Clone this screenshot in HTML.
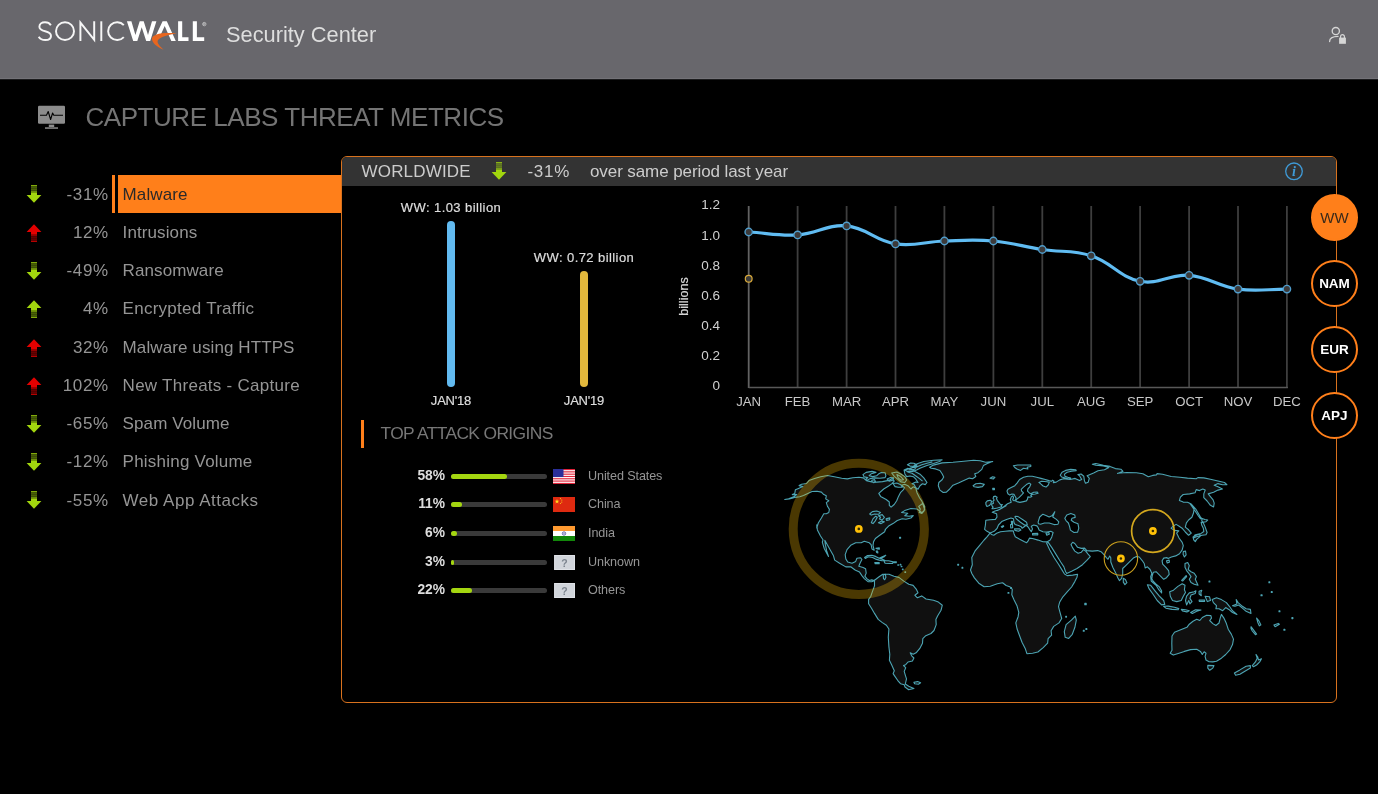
<!DOCTYPE html>
<html>
<head>
<meta charset="utf-8">
<title>SonicWall Security Center</title>
<style>
*{box-sizing:border-box;margin:0;padding:0}
html,body{width:1378px;height:794px;overflow:hidden;background:#000;}
body{position:relative;font-family:"Liberation Sans",sans-serif;color:#999;}
.abs{position:absolute;white-space:nowrap;}
svg{display:block;overflow:visible}
svg text{font-family:"Liberation Sans",sans-serif;}
#hdr{position:absolute;left:0;top:0;width:1378px;height:80px;background:#68676c;border-bottom:1px solid #1c1c1e;box-shadow:inset 0 -1px 0 #737277;}
#sc{left:226px;top:20.8px;font-size:21.8px;line-height:28px;color:#dedede;letter-spacing:0px;}
#title{left:85.5px;top:101.4px;font-size:26px;line-height:32px;color:#747474;letter-spacing:-0.46px;}
.mi{position:absolute;left:0;width:341px;height:38px;}
.mi .pc{position:absolute;right:232.3px;letter-spacing:.6px;top:.6px;line-height:38px;font-size:17px;color:#959595;white-space:nowrap;}
.mi .nm{position:absolute;left:122.6px;letter-spacing:.1px;top:.6px;line-height:38px;font-size:17px;color:#959595;white-space:nowrap;}
.mi svg{position:absolute;left:25.9px;top:10px;}
#sel{position:absolute;left:118px;top:175px;width:224px;height:38px;background:#ff7f1a;}
#selbar{position:absolute;left:112px;top:175px;width:3px;height:38px;background:#ff7f1a;}
#panel{position:absolute;left:341px;top:156px;width:996px;height:547px;border:1px solid #d8721e;border-radius:6px;}
#phead{position:absolute;left:342px;top:157px;width:994px;height:29px;background:#333;border-radius:5px 5px 0 0;}
.ph{top:157px;line-height:29px;font-size:17px;color:#ccc;}
.bar{position:absolute;width:8px;border-radius:4px;}
.lbl{font-size:13px;color:#ddd;-webkit-text-stroke:.2px #ddd;letter-spacing:.42px;text-align:center;line-height:16px;}
.rc{position:absolute;left:1311px;width:47px;height:47px;border-radius:50%;border:2px solid #ff7f1a;background:#000;color:#fff;font-size:13.5px;font-weight:bold;text-align:center;line-height:43px;}

.orow{position:absolute;left:345px;height:20px;width:400px;}
.orow .p{position:absolute;right:300px;top:0;line-height:20px;font-size:13.8px;font-weight:bold;color:#ddd;}
.orow .trk{position:absolute;left:106px;top:8px;width:96px;height:5px;border-radius:3px;background:#3a3a3a;}
.orow .fil{position:absolute;left:0;top:0;height:5px;border-radius:3px;background:#a4d610;}
.orow .flag{position:absolute;left:208px;top:3px;width:22px;height:15px;overflow:hidden}
.orow .cn{position:absolute;left:243px;top:0;line-height:20px;font-size:12.6px;letter-spacing:-.1px;color:#959595;}

#wrap{position:absolute;left:0;top:0;width:1378px;height:794px;will-change:transform;}

</style>
</head>
<body>
<div id="wrap">
<div id="hdr"></div>
<svg class="abs" id="logo" style="left:30px;top:14px" width="185" height="40" viewBox="30 14 185 40">
<g fill="none" stroke="#f6f6f6" stroke-width="1.95">
<path d="M50.9 25.2 C49.6 23.2 47.4 22.3 45 22.3 C41.6 22.3 39.4 24.2 39.4 26.7 C39.4 29.6 42 30.5 45.2 31.2 C48.6 32 51 33.1 51 35.9 C51 38.6 48.6 40 45.3 40 C42.3 40 40 38.8 38.7 36.7"/>
<ellipse cx="65" cy="31.15" rx="9" ry="8.85"/>
<path d="M80.4 41 V22.6 L94.2 39.8 V21.3" stroke-linejoin="miter" stroke-miterlimit="10"/>
<path d="M101.3 21.3 V41"/>
<path d="M123.8 25.2 A9 8.85 0 1 0 123.8 37.1"/>
</g>
<g fill="#fff">
<path d="M126.9 21.3 H131.4 L135.4 35 L139.7 21.3 H143.7 L148 35 L152 21.3 H156.4 L150.2 41 H146.2 L141.7 27.2 L137.3 41 H133.2 Z"/>
<path d="M162.6 21.3 H166.8 L175.8 41 H171.3 L164.7 25.9 L160.4 35.6 H155.9 Z"/>
<path d="M178.1 21.3 H182.2 V37.3 H188.5 V41 H178.1 Z"/>
<path d="M192.8 21.3 H196.9 V37.3 H204.2 V41 H192.8 Z"/>
</g>
<path d="M176.8 33.4 C170 32.7 161 32.8 156.5 34.5 C153.6 35.6 152 37 151.9 38.7 C152 42.2 156 46.6 163.6 49.7 C160 46.6 157.2 43.6 157.6 41.1 C158 38.6 162.4 35.6 176.8 33.4 Z" fill="#e8661f"/>
<circle cx="204.3" cy="24.1" r="1.7" fill="none" stroke="#e4e4e4" stroke-width=".6"/>
<path d="M203.6 25 V23.2 H204.5 A.5 .5 0 0 1 204.5 24.2 H203.6 M204.4 24.2 L205 25" fill="none" stroke="#e4e4e4" stroke-width=".4"/>

</svg>
<div class="abs" id="sc">Security Center</div>
<svg class="abs" id="usr" style="left:1324px;top:22px" width="28" height="26" viewBox="1324 22 28 26">
<circle cx="1335.8" cy="31.1" r="3.6" fill="none" stroke="#d6d6d6" stroke-width="1.3"/>
<path d="M1329.6 41.6 C1329.6 38.2 1332 36.5 1338 36.4" fill="none" stroke="#d6d6d6" stroke-width="1.3" stroke-linecap="round"/>
<rect x="1339.1" y="37.6" width="6.8" height="6.2" fill="#d6d6d6"/>
<path d="M1340.6 38 V36.6 A1.9 1.9 0 0 1 1344.4 36.6 V38" fill="none" stroke="#d6d6d6" stroke-width="1.2"/>

</svg>
<svg class="abs" id="mon" style="left:36px;top:103px" width="32" height="28" viewBox="36 103 32 28">
<rect x="38" y="105.8" width="27" height="18" rx="1.2" fill="#8c8c8c"/>
<path d="M40 115.3 H46.5 L48.2 111.5 L50.6 119.5 L52.6 113 L53.8 115.3 H63" fill="none" stroke="#000" stroke-width="1.1" stroke-linejoin="round"/>
<rect x="48.8" y="124.6" width="5.4" height="2.4" fill="#8c8c8c"/>
<rect x="45" y="127.3" width="13" height="1.5" fill="#8c8c8c"/>

</svg>
<div class="abs" id="title">CAPTURE LABS THREAT METRICS</div>

<div id="selbar"></div><div id="sel"></div>
<div class="mi" style="top:175.00px"><svg width="16" height="18" viewBox="0 0 16 18"><g>
<rect x="5" y="0" width="6" height="1.5" fill="#a2d60e" opacity=".8"/>
<rect x="5" y="2.2" width="6" height="1.3" fill="#a2d60e" opacity=".55"/>
<rect x="5" y="4.2" width="6" height="1.3" fill="#a2d60e" opacity=".55"/>
<rect x="5" y="3.5" width="6" height="0.7" fill="#a2d60e" opacity=".25"/>
<rect x="5" y="5.5" width="6" height="0.7" fill="#a2d60e" opacity=".3"/>
<rect x="5" y="6.2" width="6" height="1.6" fill="#a2d60e" opacity=".8"/>
<rect x="5" y="7.8" width="6" height="2.6" fill="#a2d60e"/>
<path d="M0.6 10 L15.4 10 L8 17.8 Z" fill="#a2d60e"/></g></svg><span class="pc">-31%</span><span class="nm" style="color:#2a2a2a">Malware</span></div>
<div class="mi" style="top:213.25px"><svg style="top:10.5px" width="16" height="18" viewBox="0 0 16 18"><g transform="translate(0,18) scale(1,-1)"><g>
<rect x="5" y="0" width="6" height="1.5" fill="#e40000" opacity=".8"/>
<rect x="5" y="2.2" width="6" height="1.3" fill="#e40000" opacity=".55"/>
<rect x="5" y="4.2" width="6" height="1.3" fill="#e40000" opacity=".55"/>
<rect x="5" y="3.5" width="6" height="0.7" fill="#e40000" opacity=".25"/>
<rect x="5" y="5.5" width="6" height="0.7" fill="#e40000" opacity=".3"/>
<rect x="5" y="6.2" width="6" height="1.6" fill="#e40000" opacity=".8"/>
<rect x="5" y="7.8" width="6" height="2.6" fill="#e40000"/>
<path d="M0.6 10 L15.4 10 L8 17.8 Z" fill="#e40000"/></g></g></svg><span class="pc">12%</span><span class="nm">Intrusions</span></div>
<div class="mi" style="top:251.50px"><svg width="16" height="18" viewBox="0 0 16 18"><g>
<rect x="5" y="0" width="6" height="1.5" fill="#a2d60e" opacity=".8"/>
<rect x="5" y="2.2" width="6" height="1.3" fill="#a2d60e" opacity=".55"/>
<rect x="5" y="4.2" width="6" height="1.3" fill="#a2d60e" opacity=".55"/>
<rect x="5" y="3.5" width="6" height="0.7" fill="#a2d60e" opacity=".25"/>
<rect x="5" y="5.5" width="6" height="0.7" fill="#a2d60e" opacity=".3"/>
<rect x="5" y="6.2" width="6" height="1.6" fill="#a2d60e" opacity=".8"/>
<rect x="5" y="7.8" width="6" height="2.6" fill="#a2d60e"/>
<path d="M0.6 10 L15.4 10 L8 17.8 Z" fill="#a2d60e"/></g></svg><span class="pc">-49%</span><span class="nm">Ransomware</span></div>
<div class="mi" style="top:289.75px"><svg style="top:10.5px" width="16" height="18" viewBox="0 0 16 18"><g transform="translate(0,18) scale(1,-1)"><g>
<rect x="5" y="0" width="6" height="1.5" fill="#a2d60e" opacity=".8"/>
<rect x="5" y="2.2" width="6" height="1.3" fill="#a2d60e" opacity=".55"/>
<rect x="5" y="4.2" width="6" height="1.3" fill="#a2d60e" opacity=".55"/>
<rect x="5" y="3.5" width="6" height="0.7" fill="#a2d60e" opacity=".25"/>
<rect x="5" y="5.5" width="6" height="0.7" fill="#a2d60e" opacity=".3"/>
<rect x="5" y="6.2" width="6" height="1.6" fill="#a2d60e" opacity=".8"/>
<rect x="5" y="7.8" width="6" height="2.6" fill="#a2d60e"/>
<path d="M0.6 10 L15.4 10 L8 17.8 Z" fill="#a2d60e"/></g></g></svg><span class="pc">4%</span><span class="nm" style="letter-spacing:0.26px">Encrypted Traffic</span></div>
<div class="mi" style="top:328.00px"><svg style="top:10.5px" width="16" height="18" viewBox="0 0 16 18"><g transform="translate(0,18) scale(1,-1)"><g>
<rect x="5" y="0" width="6" height="1.5" fill="#e40000" opacity=".8"/>
<rect x="5" y="2.2" width="6" height="1.3" fill="#e40000" opacity=".55"/>
<rect x="5" y="4.2" width="6" height="1.3" fill="#e40000" opacity=".55"/>
<rect x="5" y="3.5" width="6" height="0.7" fill="#e40000" opacity=".25"/>
<rect x="5" y="5.5" width="6" height="0.7" fill="#e40000" opacity=".3"/>
<rect x="5" y="6.2" width="6" height="1.6" fill="#e40000" opacity=".8"/>
<rect x="5" y="7.8" width="6" height="2.6" fill="#e40000"/>
<path d="M0.6 10 L15.4 10 L8 17.8 Z" fill="#e40000"/></g></g></svg><span class="pc">32%</span><span class="nm">Malware using HTTPS</span></div>
<div class="mi" style="top:366.25px"><svg style="top:10.5px" width="16" height="18" viewBox="0 0 16 18"><g transform="translate(0,18) scale(1,-1)"><g>
<rect x="5" y="0" width="6" height="1.5" fill="#e40000" opacity=".8"/>
<rect x="5" y="2.2" width="6" height="1.3" fill="#e40000" opacity=".55"/>
<rect x="5" y="4.2" width="6" height="1.3" fill="#e40000" opacity=".55"/>
<rect x="5" y="3.5" width="6" height="0.7" fill="#e40000" opacity=".25"/>
<rect x="5" y="5.5" width="6" height="0.7" fill="#e40000" opacity=".3"/>
<rect x="5" y="6.2" width="6" height="1.6" fill="#e40000" opacity=".8"/>
<rect x="5" y="7.8" width="6" height="2.6" fill="#e40000"/>
<path d="M0.6 10 L15.4 10 L8 17.8 Z" fill="#e40000"/></g></g></svg><span class="pc">102%</span><span class="nm" style="letter-spacing:0.27px">New Threats - Capture</span></div>
<div class="mi" style="top:404.50px"><svg width="16" height="18" viewBox="0 0 16 18"><g>
<rect x="5" y="0" width="6" height="1.5" fill="#a2d60e" opacity=".8"/>
<rect x="5" y="2.2" width="6" height="1.3" fill="#a2d60e" opacity=".55"/>
<rect x="5" y="4.2" width="6" height="1.3" fill="#a2d60e" opacity=".55"/>
<rect x="5" y="3.5" width="6" height="0.7" fill="#a2d60e" opacity=".25"/>
<rect x="5" y="5.5" width="6" height="0.7" fill="#a2d60e" opacity=".3"/>
<rect x="5" y="6.2" width="6" height="1.6" fill="#a2d60e" opacity=".8"/>
<rect x="5" y="7.8" width="6" height="2.6" fill="#a2d60e"/>
<path d="M0.6 10 L15.4 10 L8 17.8 Z" fill="#a2d60e"/></g></svg><span class="pc">-65%</span><span class="nm">Spam Volume</span></div>
<div class="mi" style="top:442.75px"><svg width="16" height="18" viewBox="0 0 16 18"><g>
<rect x="5" y="0" width="6" height="1.5" fill="#a2d60e" opacity=".8"/>
<rect x="5" y="2.2" width="6" height="1.3" fill="#a2d60e" opacity=".55"/>
<rect x="5" y="4.2" width="6" height="1.3" fill="#a2d60e" opacity=".55"/>
<rect x="5" y="3.5" width="6" height="0.7" fill="#a2d60e" opacity=".25"/>
<rect x="5" y="5.5" width="6" height="0.7" fill="#a2d60e" opacity=".3"/>
<rect x="5" y="6.2" width="6" height="1.6" fill="#a2d60e" opacity=".8"/>
<rect x="5" y="7.8" width="6" height="2.6" fill="#a2d60e"/>
<path d="M0.6 10 L15.4 10 L8 17.8 Z" fill="#a2d60e"/></g></svg><span class="pc">-12%</span><span class="nm" style="letter-spacing:0.22px">Phishing Volume</span></div>
<div class="mi" style="top:481.00px"><svg width="16" height="18" viewBox="0 0 16 18"><g>
<rect x="5" y="0" width="6" height="1.5" fill="#a2d60e" opacity=".8"/>
<rect x="5" y="2.2" width="6" height="1.3" fill="#a2d60e" opacity=".55"/>
<rect x="5" y="4.2" width="6" height="1.3" fill="#a2d60e" opacity=".55"/>
<rect x="5" y="3.5" width="6" height="0.7" fill="#a2d60e" opacity=".25"/>
<rect x="5" y="5.5" width="6" height="0.7" fill="#a2d60e" opacity=".3"/>
<rect x="5" y="6.2" width="6" height="1.6" fill="#a2d60e" opacity=".8"/>
<rect x="5" y="7.8" width="6" height="2.6" fill="#a2d60e"/>
<path d="M0.6 10 L15.4 10 L8 17.8 Z" fill="#a2d60e"/></g></svg><span class="pc">-55%</span><span class="nm" style="letter-spacing:0.52px">Web App Attacks</span></div>

<div id="panel"></div>
<div id="phead"></div>
<div class="abs ph" style="left:361.5px;letter-spacing:.18px">WORLDWIDE</div>
<div class="abs" style="left:491px;top:162px"><svg width="16" height="18" viewBox="0 0 16 18"><g>
<rect x="5" y="0" width="6" height="1.5" fill="#a2d60e" opacity=".8"/>
<rect x="5" y="2.2" width="6" height="1.3" fill="#a2d60e" opacity=".55"/>
<rect x="5" y="4.2" width="6" height="1.3" fill="#a2d60e" opacity=".55"/>
<rect x="5" y="3.5" width="6" height="0.7" fill="#a2d60e" opacity=".25"/>
<rect x="5" y="5.5" width="6" height="0.7" fill="#a2d60e" opacity=".3"/>
<rect x="5" y="6.2" width="6" height="1.6" fill="#a2d60e" opacity=".8"/>
<rect x="5" y="7.8" width="6" height="2.6" fill="#a2d60e"/>
<path d="M0.6 10 L15.4 10 L8 17.8 Z" fill="#a2d60e"/></g></svg></div>
<div class="abs ph" style="left:527.5px;letter-spacing:.7px">-31%</div>
<div class="abs ph" style="left:590px;letter-spacing:-.09px">over same period last year</div>
<svg class="abs" style="left:1283px;top:161px" width="22" height="22" viewBox="0 0 22 22"><circle cx="11" cy="10.3" r="8.3" fill="none" stroke="#3f9ad6" stroke-width="1.3"/><text x="11" y="15.3" text-anchor="middle" font-family="Liberation Serif" font-style="italic" font-weight="bold" font-size="14" fill="#3f9ad6" style="font-family:'Liberation Serif',serif">i</text></svg>

<div class="bar" style="left:447.4px;top:221px;height:166px;background:#62baf0"></div>
<div class="bar" style="left:580.2px;top:271px;height:116px;background:#e2b83c"></div>
<div class="abs lbl" style="left:351px;width:200px;top:200px">WW: 1.03 billion</div>
<div class="abs lbl" style="left:484px;width:200px;top:250px">WW: 0.72 billion</div>
<div class="abs lbl" style="left:351px;width:200px;top:393px;letter-spacing:-.2px">JAN'18</div>
<div class="abs lbl" style="left:484px;width:200px;top:393px;letter-spacing:-.2px">JAN'19</div>

<svg class="abs" id="chart" style="left:670px;top:190px" width="640" height="230" viewBox="670 190 640 230">
<line x1="748.7" y1="206" x2="748.7" y2="388" stroke="#626262" stroke-width="1.8"/>
<line x1="797.6" y1="206" x2="797.6" y2="388" stroke="#3e3e3e" stroke-width="1.8"/>
<line x1="846.6" y1="206" x2="846.6" y2="388" stroke="#3e3e3e" stroke-width="1.8"/>
<line x1="895.5" y1="206" x2="895.5" y2="388" stroke="#3e3e3e" stroke-width="1.8"/>
<line x1="944.4" y1="206" x2="944.4" y2="388" stroke="#3e3e3e" stroke-width="1.8"/>
<line x1="993.4" y1="206" x2="993.4" y2="388" stroke="#3e3e3e" stroke-width="1.8"/>
<line x1="1042.3" y1="206" x2="1042.3" y2="388" stroke="#3e3e3e" stroke-width="1.8"/>
<line x1="1091.2" y1="206" x2="1091.2" y2="388" stroke="#3e3e3e" stroke-width="1.8"/>
<line x1="1140.1" y1="206" x2="1140.1" y2="388" stroke="#3e3e3e" stroke-width="1.8"/>
<line x1="1189.1" y1="206" x2="1189.1" y2="388" stroke="#3e3e3e" stroke-width="1.8"/>
<line x1="1238.0" y1="206" x2="1238.0" y2="388" stroke="#3e3e3e" stroke-width="1.8"/>
<line x1="1286.9" y1="206" x2="1286.9" y2="388" stroke="#3e3e3e" stroke-width="1.8"/>
<line x1="748.7" y1="387.4" x2="1287.9" y2="387.4" stroke="#585858" stroke-width="1.5"/>
<path d="M748.7 232.0 C768.3 233.2 778.2 236.1 797.6 234.9 C817.3 233.7 827.4 224.1 846.6 225.9 C866.6 227.7 875.3 240.8 895.5 243.9 C914.5 246.8 924.8 241.6 944.4 241.0 C964.0 240.4 973.9 239.3 993.4 241.0 C1013.1 242.7 1022.6 246.5 1042.3 249.5 C1061.8 252.5 1072.7 249.8 1091.2 255.8 C1111.9 262.5 1119.5 277.2 1140.1 281.3 C1158.6 285.0 1169.8 273.8 1189.1 275.3 C1208.9 276.9 1218.1 286.3 1238.0 289.1 C1257.2 291.8 1267.4 289.1 1286.9 289.1" fill="none" stroke="#60bcf2" stroke-width="3.2" stroke-linecap="round" stroke-linejoin="round"/>
<circle cx="748.7" cy="232.0" r="3.7" fill="#3c3a3a" stroke="#4f9dcc" stroke-width="1.4"/>
<circle cx="797.6" cy="234.9" r="3.7" fill="#3c3a3a" stroke="#4f9dcc" stroke-width="1.4"/>
<circle cx="846.6" cy="225.9" r="3.7" fill="#3c3a3a" stroke="#4f9dcc" stroke-width="1.4"/>
<circle cx="895.5" cy="243.9" r="3.7" fill="#3c3a3a" stroke="#4f9dcc" stroke-width="1.4"/>
<circle cx="944.4" cy="241.0" r="3.7" fill="#3c3a3a" stroke="#4f9dcc" stroke-width="1.4"/>
<circle cx="993.4" cy="241.0" r="3.7" fill="#3c3a3a" stroke="#4f9dcc" stroke-width="1.4"/>
<circle cx="1042.3" cy="249.5" r="3.7" fill="#3c3a3a" stroke="#4f9dcc" stroke-width="1.4"/>
<circle cx="1091.2" cy="255.8" r="3.7" fill="#3c3a3a" stroke="#4f9dcc" stroke-width="1.4"/>
<circle cx="1140.1" cy="281.3" r="3.7" fill="#3c3a3a" stroke="#4f9dcc" stroke-width="1.4"/>
<circle cx="1189.1" cy="275.3" r="3.7" fill="#3c3a3a" stroke="#4f9dcc" stroke-width="1.4"/>
<circle cx="1238.0" cy="289.1" r="3.7" fill="#3c3a3a" stroke="#4f9dcc" stroke-width="1.4"/>
<circle cx="1286.9" cy="289.1" r="3.7" fill="#3c3a3a" stroke="#4f9dcc" stroke-width="1.4"/>
<circle cx="748.7" cy="278.7" r="3.4" fill="#3a3a3a" stroke="#d9a93a" stroke-width="1.2"/>
<text x="748.7" y="406" text-anchor="middle" font-size="13.2" fill="#c8c8c8">JAN</text>
<text x="797.6" y="406" text-anchor="middle" font-size="13.2" fill="#c8c8c8">FEB</text>
<text x="846.6" y="406" text-anchor="middle" font-size="13.2" fill="#c8c8c8">MAR</text>
<text x="895.5" y="406" text-anchor="middle" font-size="13.2" fill="#c8c8c8">APR</text>
<text x="944.4" y="406" text-anchor="middle" font-size="13.2" fill="#c8c8c8">MAY</text>
<text x="993.4" y="406" text-anchor="middle" font-size="13.2" fill="#c8c8c8">JUN</text>
<text x="1042.3" y="406" text-anchor="middle" font-size="13.2" fill="#c8c8c8">JUL</text>
<text x="1091.2" y="406" text-anchor="middle" font-size="13.2" fill="#c8c8c8">AUG</text>
<text x="1140.1" y="406" text-anchor="middle" font-size="13.2" fill="#c8c8c8">SEP</text>
<text x="1189.1" y="406" text-anchor="middle" font-size="13.2" fill="#c8c8c8">OCT</text>
<text x="1238.0" y="406" text-anchor="middle" font-size="13.2" fill="#c8c8c8">NOV</text>
<text x="1286.9" y="406" text-anchor="middle" font-size="13.2" fill="#c8c8c8">DEC</text>
<text x="720" y="390.4" text-anchor="end" font-size="13.5" fill="#d0d0d0">0</text>
<text x="720" y="360.2" text-anchor="end" font-size="13.5" fill="#d0d0d0">0.2</text>
<text x="720" y="330.0" text-anchor="end" font-size="13.5" fill="#d0d0d0">0.4</text>
<text x="720" y="299.9" text-anchor="end" font-size="13.5" fill="#d0d0d0">0.6</text>
<text x="720" y="269.7" text-anchor="end" font-size="13.5" fill="#d0d0d0">0.8</text>
<text x="720" y="239.5" text-anchor="end" font-size="13.5" fill="#d0d0d0">1.0</text>
<text x="720" y="209.3" text-anchor="end" font-size="13.5" fill="#d0d0d0">1.2</text>
<text transform="translate(687.8,296.5) rotate(-90)" text-anchor="middle" font-size="12.6" fill="#d6d6d6" stroke="#d6d6d6" stroke-width=".2">billions</text>
</svg>

<div class="rc" style="top:194px;background:#ff7f1a;color:#3a2a1a;font-weight:normal;font-size:15px">WW</div>
<div class="rc" style="top:260px">NAM</div>
<div class="rc" style="top:326px">EUR</div>
<div class="rc" style="top:392px">APJ</div>

<div class="abs" style="left:361px;top:420px;width:3px;height:28px;background:#ff7f1a"></div>
<div class="abs" id="tao" style="left:380.5px;top:421.3px;font-size:17.4px;line-height:24px;color:#777;letter-spacing:-.62px">TOP ATTACK ORIGINS</div>

<div class="orow" style="top:465.5px"><span class="p">58%</span><div class="trk"><div class="fil" style="width:55.7px"></div></div><div class="flag"><svg width="22" height="15" viewBox="0 0 22 15"><rect width="22" height="15" fill="#fff"/><g fill="#e0243a"><rect y="0" width="22" height="1.15"/><rect y="2.3" width="22" height="1.15"/><rect y="4.6" width="22" height="1.15"/><rect y="6.9" width="22" height="1.15"/><rect y="9.2" width="22" height="1.15"/><rect y="11.5" width="22" height="1.15"/><rect y="13.85" width="22" height="1.15"/></g><rect width="10.5" height="8.05" fill="#2a2f9a"/></svg>
</div><span class="cn">United States</span></div>
<div class="orow" style="top:494.2px"><span class="p">11%</span><div class="trk"><div class="fil" style="width:10.6px"></div></div><div class="flag"><svg width="22" height="15" viewBox="0 0 22 15"><rect width="22" height="15" fill="#de2a10"/><path d="M4 2 l.6 1.7 h1.8 l-1.45 1.05 .55 1.7 -1.5-1.05 -1.5 1.05 .55-1.7 -1.45-1.05 h1.8z" fill="#ffd91a"/><g fill="#ffd91a"><circle cx="7.4" cy="1.6" r=".55"/><circle cx="8.8" cy="3" r=".55"/><circle cx="8.8" cy="5.1" r=".55"/><circle cx="7.4" cy="6.5" r=".55"/></g></svg>
</div><span class="cn">China</span></div>
<div class="orow" style="top:522.9px"><span class="p">6%</span><div class="trk"><div class="fil" style="width:5.8px"></div></div><div class="flag"><svg width="22" height="15" viewBox="0 0 22 15"><rect width="22" height="5" fill="#ff9a30"/><rect y="5" width="22" height="5" fill="#fff"/><rect y="10" width="22" height="5" fill="#12870a"/><circle cx="11" cy="7.5" r="1.7" fill="none" stroke="#2a2a8c" stroke-width=".7"/><circle cx="11" cy="7.5" r=".5" fill="#2a2a8c"/></svg>
</div><span class="cn">India</span></div>
<div class="orow" style="top:551.6px"><span class="p">3%</span><div class="trk"><div class="fil" style="width:3.0px"></div></div><div class="flag"><svg width="22" height="15" viewBox="0 0 22 15"><rect x="1.2" y="0" width="20.8" height="15" fill="#d1d5db"/><rect x="1.7" y=".5" width="19.8" height="14" fill="none" stroke="#dfe2e7"/><text x="11.4" y="11.6" text-anchor="middle" font-size="10.5" font-weight="bold" fill="#7d858f">?</text></svg>
</div><span class="cn">Unknown</span></div>
<div class="orow" style="top:580.3px"><span class="p">22%</span><div class="trk"><div class="fil" style="width:21.1px"></div></div><div class="flag"><svg width="22" height="15" viewBox="0 0 22 15"><rect x="1.2" y="0" width="20.8" height="15" fill="#d1d5db"/><rect x="1.7" y=".5" width="19.8" height="14" fill="none" stroke="#dfe2e7"/><text x="11.4" y="11.6" text-anchor="middle" font-size="10.5" font-weight="bold" fill="#7d858f">?</text></svg>
</div><span class="cn">Others</span></div>

<svg class="abs" id="map" style="left:770px;top:440px" width="560" height="262" viewBox="770 440 560 262">
<path d="M827.5 475.5 L834.3 476.7 L841.7 478.2 L847.3 478.9 L852.8 477.7 L859.0 477.3 L863.3 477.9 L866.4 480.6 L873.8 482.4 L882.5 481.6 L888.6 480.4 L892.6 478.4 L894.2 481.1 L891.7 483.9 L888.6 486.0 L883.7 489.0 L878.8 493.4 L880.6 496.4 L886.2 499.5 L889.3 502.0 L889.3 505.3 L891.1 507.2 L894.2 504.5 L896.7 500.8 L898.5 496.4 L900.4 492.7 L903.5 489.7 L904.4 487.6 L901.6 485.3 L904.7 484.3 L908.4 486.1 L910.9 489.0 L913.1 486.8 L915.8 488.0 L917.0 492.7 L919.5 497.7 L922.0 501.4 L923.2 505.1 L924.7 509.8 L922.0 512.7 L917.0 509.0 L910.9 508.5 L904.7 510.6 L901.6 512.5 L907.8 513.2 L904.7 515.6 L909.0 516.2 L913.3 515.6 L910.9 518.0 L905.9 519.3 L902.2 518.7 L897.3 520.5 L893.0 523.6 L888.6 526.1 L885.6 529.2 L884.9 531.0 L885.3 529.3 L884.7 531.7 L880.4 534.8 L875.4 538.5 L873.6 541.6 L873.0 545.3 L874.2 550.2 L872.0 549.0 L871.1 544.7 L869.3 542.8 L864.3 541.2 L861.2 542.8 L855.7 542.8 L850.7 545.3 L847.0 549.6 L845.2 554.6 L845.8 558.9 L847.7 562.0 L852.0 563.2 L855.7 561.4 L856.9 558.3 L860.6 557.7 L861.9 559.5 L860.0 563.2 L858.8 566.3 L863.1 567.5 L865.6 568.8 L866.2 573.1 L864.9 576.2 L866.8 578.6 L869.3 580.5 L871.7 579.9 L874.2 580.5 L879.1 576.8 L882.8 574.3 L889.0 574.3 L894.0 576.2 L898.9 577.4 L903.8 581.1 L908.8 584.2 L913.1 585.4 L916.2 589.1 L918.0 592.8 L914.9 595.3 L917.4 597.8 L921.7 595.9 L926.0 599.0 L933.5 600.2 L938.4 602.1 L942.3 605.2 L941.1 610.1 L940.9 610.5 L937.7 615.7 L935.9 619.4 L936.2 624.6 L934.0 630.5 L931.0 633.5 L925.8 635.7 L922.8 638.7 L922.5 643.2 L919.8 648.4 L916.1 652.8 L913.2 654.3 L910.2 652.8 L911.7 655.8 L913.9 658.0 L912.4 661.0 L908.0 662.0 L905.7 664.7 L903.5 665.5 L905.7 667.7 L904.2 671.4 L905.3 675.1 L906.5 678.8 L905.3 684.0 L908.7 686.3 L913.9 688.5 L908.7 689.7 L905.0 687.0 L904.2 684.8 L900.5 683.7 L897.6 680.3 L894.6 675.9 L893.1 673.6 L894.3 670.7 L891.6 664.7 L889.4 660.2 L889.8 654.3 L888.9 646.9 L888.3 637.2 L888.9 629.0 L886.4 625.3 L882.0 622.4 L878.2 619.4 L874.5 613.4 L871.5 608.2 L868.6 603.8 L868.6 599.3 L870.8 596.3 L872.3 591.9 L874.5 585.9 L874.5 580.0 L873.6 581.1 L871.7 581.7 L868.0 581.7 L864.3 578.6 L861.9 575.6 L859.4 571.9 L855.1 570.0 L850.7 566.7 L845.8 566.9 L839.6 563.2 L834.7 560.1 L833.5 555.8 L830.4 550.2 L827.3 544.7 L824.8 540.4 L825.4 544.7 L826.7 550.9 L828.5 556.4 L824.2 548.4 L822.3 542.2 L823.0 539.8 L820.5 536.0 L817.4 529.9 L816.8 524.9 L816.8 527.9 L818.3 523.0 L821.4 518.0 L823.8 513.7 L826.3 513.7 L828.8 512.5 L829.4 509.4 L827.5 506.3 L826.3 502.6 L828.8 500.8 L825.7 498.9 L826.3 495.8 L823.8 494.6 L821.4 492.1 L817.0 491.3 L812.1 491.5 L807.8 493.4 L803.5 495.5 L799.8 496.7 L794.8 497.4 L789.3 498.9 L784.7 499.5 L788.6 498.7 L793.6 496.7 L796.7 494.6 L792.3 494.6 L794.8 493.4 L795.4 489.7 L798.5 488.4 L802.8 486.6 L799.1 485.6 L801.6 484.3 L806.5 483.5 L809.0 480.6 L814.6 478.5 L820.7 476.7Z M913.9 682.2 L917.6 681.6 L920.6 682.8 L918.4 684.3 L914.6 683.7Z M929.6 467.2 L933.4 465.1 L942.1 462.9 L953.0 462.3 L963.8 461.3 L973.6 460.2 L980.2 460.7 L985.6 462.3 L992.7 461.6 L987.3 463.4 L983.4 465.6 L981.8 469.4 L978.0 472.7 L974.7 473.8 L975.8 476.5 L972.6 478.7 L969.3 478.1 L963.8 480.5 L958.4 483.0 L953.0 485.2 L949.7 489.0 L946.4 492.1 L943.2 492.5 L939.9 490.1 L938.3 485.7 L938.8 482.5 L942.1 479.8 L943.7 477.0 L942.1 473.8 L939.9 470.5 L935.5 468.9 L931.2 468.3Z M973.1 485.7 L975.8 483.8 L980.2 483.3 L984.3 484.4 L982.4 486.6 L978.0 487.4 L974.2 486.8Z M990.0 478.3 L992.7 476.8 L994.9 477.3 L993.2 479.0Z M992.8 488.8 L993.9 488.6 L994.1 489.4 L993.0 489.7Z M918.7 506.4 L923.0 503.2 L924.7 506.4 L924.1 510.8 L921.9 513.5 L919.2 512.4 L920.3 509.1Z M864.6 557.5 L867.5 555.5 L871.9 555.3 L875.6 556.4 L879.2 558.3 L882.9 559.4 L885.1 560.5 L882.1 560.8 L879.2 560.1 L875.6 559.1 L872.6 557.5 L868.3 556.8 L865.3 558.4Z M884.3 560.6 L888.7 560.8 L893.1 561.9 L892.7 563.4 L889.4 563.5 L885.1 563.2 L884.3 561.9Z M874.8 562.6 L879.2 562.5 L879.2 563.7 L875.2 563.7Z M893.8 561.9 L896.4 561.9 L896.2 562.8 L894.0 562.8Z M875.9 548.2 L879.2 547.7 L879.4 549.3 L877.4 548.9Z M876.2 551.0 L877.6 551.1 L877.9 552.9 L876.6 552.4Z M879.6 558.1 L882.9 556.4 L885.8 555.2 L884.3 556.7 L881.4 558.1Z M897.8 564.7 L898.6 564.7 L898.6 565.3 L897.8 565.3Z M900.2 564.3 L900.9 564.3 L900.9 564.9 L900.2 564.9Z M901.2 566.2 L901.9 566.2 L901.9 566.8 L901.2 566.8Z M902.4 569.1 L903.1 569.1 L903.1 569.7 L902.4 569.7Z M904.9 571.8 L905.6 571.8 L905.6 572.5 L904.9 572.5Z M990.2 532.9 L987.0 531.3 L984.6 529.3 L985.4 525.0 L985.8 520.2 L990.2 519.8 L995.4 519.4 L997.0 517.0 L996.6 513.8 L992.2 512.2 L995.0 511.0 L998.9 509.8 L1002.5 507.8 L1006.1 505.8 L997.4 510.4 L1001.8 508.2 L1004.7 506.0 L1007.6 503.8 L1011.2 502.2 L1010.3 499.5 L1011.3 496.9 L1013.0 495.8 L1013.5 497.7 L1012.7 499.8 L1014.1 500.9 L1015.6 499.8 L1016.1 498.0 L1014.8 495.8 L1014.1 494.4 L1011.9 494.0 L1009.8 495.1 L1007.9 493.7 L1007.0 491.1 L1007.9 489.3 L1011.2 487.6 L1014.8 485.7 L1017.0 483.1 L1019.6 479.5 L1023.5 477.3 L1027.9 476.2 L1032.2 476.2 L1036.6 477.3 L1041.0 478.4 L1045.3 479.5 L1048.9 480.6 L1051.5 481.3 L1052.6 480.2 L1054.0 481.3 L1053.3 482.8 L1056.2 482.1 L1059.8 479.9 L1063.5 478.8 L1067.1 479.2 L1070.2 479.5 L1075.1 478.4 L1079.5 480.6 L1081.7 479.5 L1079.5 475.7 L1077.9 474.6 L1081.1 474.0 L1083.8 476.2 L1084.4 480.6 L1085.5 483.3 L1088.2 482.2 L1089.3 478.4 L1087.1 475.7 L1093.6 473.0 L1098.0 470.8 L1104.5 469.7 L1108.9 467.5 L1103.4 465.9 L1095.8 465.3 L1092.3 464.3 L1095.8 463.5 L1103.4 465.3 L1110.0 466.4 L1115.4 468.6 L1120.9 469.2 L1123.0 471.3 L1117.6 473.5 L1117.9 473.2 L1126.6 472.5 L1136.4 472.7 L1142.9 473.8 L1148.3 476.8 L1152.7 475.4 L1156.5 474.9 L1157.0 473.6 L1162.5 474.3 L1171.2 476.5 L1179.9 477.3 L1187.5 478.1 L1196.2 478.7 L1197.9 477.6 L1203.8 477.9 L1210.4 479.2 L1216.9 480.8 L1224.5 482.5 L1226.9 484.7 L1222.4 484.7 L1218.0 483.6 L1214.2 485.2 L1218.0 486.8 L1222.4 489.0 L1218.0 490.1 L1213.6 492.3 L1208.2 493.9 L1210.4 496.6 L1213.1 499.9 L1214.2 503.2 L1213.6 507.0 L1210.4 505.3 L1207.1 501.0 L1203.8 497.7 L1203.8 493.9 L1205.2 490.1 L1202.8 489.0 L1199.5 490.6 L1196.2 489.6 L1195.1 492.8 L1189.7 493.9 L1183.2 494.5 L1180.4 497.2 L1179.4 500.4 L1183.2 502.1 L1187.5 502.3 L1190.8 503.7 L1194.1 508.6 L1193.5 513.0 L1191.9 517.3 L1188.6 520.0 L1186.4 522.8 L1185.3 527.1 L1188.6 529.8 L1191.3 533.1 L1188.6 535.3 L1185.3 532.0 L1182.1 528.2 L1178.8 526.0 L1176.1 524.4 L1173.4 526.0 L1171.2 528.2 L1174.5 530.4 L1178.8 530.9 L1176.6 533.1 L1178.8 537.4 L1179.0 538.0 L1182.2 542.3 L1183.3 545.6 L1182.2 549.9 L1179.5 553.7 L1175.7 555.9 L1171.4 557.0 L1168.1 558.6 L1167.0 557.6 L1163.7 558.1 L1162.1 560.8 L1162.7 564.1 L1165.9 567.3 L1168.6 570.6 L1169.2 574.4 L1166.5 577.7 L1163.7 579.3 L1161.0 576.6 L1158.3 573.9 L1156.1 571.7 L1153.4 572.2 L1152.3 575.5 L1151.8 578.8 L1153.4 581.5 L1156.1 584.2 L1159.4 586.9 L1161.6 590.8 L1161.6 592.9 L1158.8 589.7 L1156.1 585.3 L1153.4 583.1 L1151.2 581.0 L1150.7 576.6 L1151.8 573.3 L1150.1 569.5 L1147.4 566.8 L1145.2 567.9 L1144.2 563.5 L1142.0 560.3 L1139.3 557.0 L1136.5 556.5 L1133.3 558.1 L1130.0 561.4 L1126.0 565.3 L1122.7 568.5 L1122.7 574.0 L1121.6 578.3 L1119.5 580.7 L1117.8 577.8 L1115.7 572.9 L1112.9 567.5 L1110.8 562.0 L1110.8 557.7 L1109.7 556.0 L1108.0 559.3 L1106.4 557.7 L1104.2 554.9 L1101.0 551.7 L1097.7 550.6 L1092.2 551.1 L1086.8 550.6 L1084.6 548.1 L1081.4 548.4 L1077.6 547.3 L1074.8 543.5 L1072.7 542.2 L1071.0 544.6 L1072.7 547.9 L1074.8 551.1 L1078.1 553.3 L1081.4 552.2 L1083.5 549.5 L1085.7 551.1 L1087.9 553.8 L1090.3 556.6 L1086.8 560.4 L1082.5 564.7 L1077.0 568.5 L1071.6 571.3 L1066.7 573.4 L1065.6 571.8 L1063.9 566.9 L1060.7 562.0 L1056.3 554.9 L1052.0 547.9 L1048.2 542.4 L1046.5 543.0 L1049.8 550.0 L1054.2 557.7 L1058.5 564.2 L1061.8 569.6 L1064.5 574.0 L1067.2 575.6 L1072.7 575.1 L1077.6 574.2 L1077.0 577.2 L1074.8 581.6 L1071.6 587.0 L1067.2 591.9 L1062.9 596.8 L1059.6 602.3 L1058.5 606.6 L1059.6 610.9 L1061.7 618.5 L1059.0 622.9 L1053.7 626.4 L1051.1 630.8 L1051.6 635.2 L1048.1 638.7 L1047.6 643.2 L1043.2 647.6 L1037.9 652.0 L1032.6 653.2 L1026.9 653.7 L1025.2 648.4 L1022.0 642.3 L1019.4 635.2 L1017.1 629.0 L1015.8 622.9 L1018.1 616.7 L1018.8 612.3 L1017.1 606.1 L1014.1 600.0 L1011.8 594.7 L1012.3 589.4 L1009.7 586.7 L1006.1 585.5 L1002.6 582.8 L997.3 583.7 L990.3 586.2 L984.1 586.7 L978.8 583.2 L974.4 577.9 L971.8 573.5 L970.5 570.0 L972.3 564.7 L971.8 557.6 L975.3 550.6 L979.7 545.3 L984.1 540.0 L987.0 536.9Z M992.0 508.7 L993.1 507.2 L992.0 505.8 L991.5 504.2 L993.5 503.3 L992.8 501.3 L994.2 500.0 L993.1 498.5 L993.6 496.6 L995.4 496.1 L997.1 497.3 L996.5 498.7 L997.4 500.6 L999.0 502.7 L1000.7 504.8 L1002.4 504.6 L1001.2 505.8 L1001.8 506.8 L997.4 508.0 L993.8 508.7Z M985.8 502.7 L987.3 500.9 L990.2 500.2 L991.6 501.3 L990.9 503.5 L989.4 505.6 L986.9 506.5 L986.0 504.8Z M992.7 488.4 L994.4 488.2 L994.5 489.7 L992.9 489.8Z M1013.4 465.7 L1017.7 465.0 L1030.8 465.0 L1030.8 466.5 L1027.2 467.2 L1027.9 469.0 L1023.5 468.3 L1020.6 470.4 L1017.0 469.0 L1014.8 467.5Z M1060.2 475.2 L1062.0 472.3 L1065.6 470.4 L1070.7 469.4 L1075.8 469.7 L1076.2 470.8 L1071.4 471.2 L1067.1 472.3 L1064.5 474.1 L1064.9 476.2 L1067.8 477.3 L1070.7 478.1 L1069.6 479.2 L1065.6 478.1 L1061.6 477.0Z M1189.9 503.4 L1191.3 504.0 L1196.2 509.7 L1200.0 516.2 L1201.7 518.6 L1200.4 518.6 L1198.4 516.0 L1194.6 510.2Z M1202.2 518.6 L1204.9 519.5 L1207.7 520.0 L1206.0 521.7 L1203.3 522.2 L1201.7 520.8Z M1201.1 522.2 L1203.3 522.8 L1205.2 527.1 L1207.1 532.5 L1206.0 534.7 L1202.2 535.3 L1196.2 536.7 L1193.5 538.0 L1193.0 536.9 L1196.2 535.3 L1201.1 533.4 L1203.8 531.5 L1203.3 528.2 L1201.7 524.9Z M1193.1 537.4 L1195.3 534.7 L1199.7 533.9 L1200.2 536.3 L1196.6 539.4 L1195.3 541.6 L1193.7 539.8Z M1183.3 551.6 L1185.5 551.0 L1186.1 554.8 L1184.4 557.0 L1183.1 554.3Z M1166.5 560.8 L1169.2 560.1 L1169.4 562.2 L1167.2 563.0Z M1185.0 563.5 L1187.7 562.5 L1189.3 565.7 L1188.2 569.5 L1191.0 571.7 L1194.2 573.3 L1196.4 576.6 L1195.3 579.3 L1198.0 585.3 L1194.2 584.2 L1191.0 582.6 L1189.3 579.3 L1191.0 576.6 L1188.8 573.3 L1186.6 570.6 L1185.0 567.3Z M1181.7 580.4 L1186.1 575.5 L1186.6 576.6 L1182.8 581.0Z M1169.7 591.8 L1173.5 590.2 L1177.9 586.4 L1182.2 583.7 L1185.0 585.3 L1184.4 589.7 L1185.5 592.4 L1183.3 596.2 L1181.2 600.5 L1176.8 601.6 L1172.5 600.5 L1170.3 596.2Z M1147.4 584.8 L1150.7 585.3 L1155.0 590.8 L1159.4 596.2 L1163.7 600.5 L1164.8 604.4 L1161.6 604.9 L1157.2 600.5 L1152.9 594.0 L1149.0 588.6Z M1186.6 596.2 L1189.3 592.9 L1194.2 591.8 L1195.9 590.8 L1195.3 593.5 L1191.0 595.1 L1189.9 598.4 L1192.0 601.6 L1189.9 603.8 L1188.8 600.5 L1186.6 604.9 L1185.5 600.5Z M1199.1 591.3 L1201.8 590.2 L1200.8 592.9 L1201.3 595.7 L1199.1 594.0Z M1205.1 596.2 L1209.5 596.7 L1210.5 600.5 L1207.3 601.6Z M1199.1 600.0 L1204.6 600.0 L1204.6 601.4 L1199.3 601.4Z M1268.9 581.8 L1269.8 581.8 L1269.8 582.7 L1268.9 582.7Z M1261.3 594.9 L1262.1 594.9 L1262.1 595.8 L1261.3 595.8Z M1271.3 591.6 L1272.2 591.6 L1272.2 592.5 L1271.3 592.5Z M1209.0 581.1 L1209.9 581.1 L1209.9 581.9 L1209.0 581.9Z M1170.2 653.3 L1172.0 650.2 L1171.8 643.4 L1172.0 636.0 L1174.5 632.3 L1180.7 629.8 L1186.9 627.3 L1189.3 624.2 L1193.0 621.2 L1196.7 619.3 L1199.8 620.5 L1202.3 617.5 L1206.6 615.2 L1210.9 615.6 L1211.5 618.1 L1209.7 620.5 L1212.8 623.6 L1215.9 625.5 L1219.0 623.0 L1220.2 618.1 L1221.4 614.4 L1223.9 618.1 L1226.4 623.6 L1228.2 629.2 L1231.3 634.1 L1233.5 639.1 L1232.5 644.6 L1230.1 649.6 L1225.7 654.5 L1221.4 658.2 L1216.5 661.3 L1212.8 661.9 L1209.1 661.7 L1206.0 660.0 L1205.1 656.3 L1206.0 653.3 L1204.1 651.8 L1202.3 654.5 L1200.4 651.4 L1196.7 649.3 L1190.6 649.6 L1184.4 651.4 L1178.2 653.5 L1173.3 655.1Z M1207.8 665.4 L1214.0 665.6 L1212.8 668.1 L1209.7 670.3 L1207.8 668.1Z M1252.3 665.6 L1255.4 661.9 L1257.2 658.2 L1256.0 654.5 L1257.8 657.0 L1258.5 660.0 L1261.5 658.8 L1259.7 661.9 L1256.6 665.0 L1253.5 666.8Z M1234.4 673.0 L1239.9 669.9 L1246.1 666.2 L1250.4 665.6 L1250.4 668.1 L1244.9 671.2 L1239.9 674.2 L1235.6 675.2Z M1212.2 599.6 L1216.5 597.7 L1221.4 599.6 L1226.4 602.6 L1229.4 606.3 L1232.5 610.7 L1236.9 614.4 L1232.5 612.5 L1228.8 609.4 L1225.7 607.6 L1222.7 610.7 L1219.0 608.8 L1215.9 608.8 L1216.5 605.7 L1213.4 602.6Z M1232.5 605.7 L1236.9 603.9 L1236.2 599.6 L1238.1 602.6 L1242.4 606.3 L1246.1 608.8 L1250.4 609.4 L1251.0 613.5 L1246.1 611.3 L1242.4 608.2 L1238.7 605.1 L1235.0 606.3Z M1251.0 626.7 L1252.9 629.2 L1256.6 634.1 L1255.4 634.7 L1252.3 631.0 L1251.0 628.6Z M1256.6 618.1 L1259.1 621.2 L1260.9 624.9 L1259.4 625.9 L1257.8 622.4Z M1273.9 624.9 L1278.2 623.4 L1279.4 624.2 L1275.1 626.7Z M1279.0 610.8 L1279.9 610.8 L1279.9 611.8 L1279.0 611.8Z M1291.9 617.6 L1292.9 617.6 L1292.9 618.6 L1291.9 618.6Z M1283.9 629.3 L1284.9 629.3 L1284.9 630.3 L1283.9 630.3Z M1261.0 594.7 L1262.0 594.7 L1262.0 595.7 L1261.0 595.7Z M1163.6 606.3 L1168.3 606.1 L1174.5 607.3 L1178.8 608.6 L1178.2 609.8 L1172.0 609.4 L1165.9 608.2Z M1181.3 609.4 L1185.6 609.8 L1189.3 610.7 L1186.9 611.9 L1182.5 611.0Z M1190.6 612.5 L1195.5 609.8 L1201.0 610.0 L1196.7 611.3 L1192.4 613.5Z M1123.3 578.3 L1125.4 579.4 L1126.9 582.7 L1124.9 584.6 L1123.3 582.1Z M1084.8 603.4 L1086.2 603.4 L1086.2 604.7 L1084.8 604.7Z M1064.3 631.7 L1066.1 624.6 L1071.4 620.2 L1075.3 616.2 L1076.3 620.2 L1074.9 627.3 L1072.3 634.3 L1068.7 638.4 L1065.2 637.3Z M957.7 564.2 L958.6 564.2 L958.6 565.1 L957.7 565.1Z M962.0 567.4 L962.8 567.4 L962.8 568.3 L962.0 568.3Z M1008.0 592.5 L1008.9 592.5 L1008.9 593.3 L1008.0 593.3Z M1010.6 587.5 L1011.5 587.5 L1011.5 588.4 L1010.6 588.4Z M1085.0 603.4 L1085.9 603.4 L1085.9 604.3 L1085.0 604.3Z M1065.7 616.3 L1066.5 616.3 L1066.5 617.1 L1065.7 617.1Z M1085.9 628.6 L1086.8 628.6 L1086.8 629.5 L1085.9 629.5Z M1083.3 630.4 L1084.2 630.4 L1084.2 631.3 L1083.3 631.3Z M862.9 474.6 L866.1 472.4 L872.0 471.4 L876.0 472.4 L871.4 473.7 L869.1 475.6 L872.7 476.6 L876.6 475.8 L878.9 473.7 L881.2 472.6 L885.1 472.7 L885.9 475.8 L885.1 477.6 L879.9 478.2 L874.6 477.9 L870.1 478.6 L867.1 480.4 L865.8 479.2 L867.8 477.6 L864.2 476.9Z M871.7 480.2 L874.6 479.6 L875.3 481.2 L873.7 482.8 L872.2 481.9Z M887.1 478.9 L890.4 477.6 L893.6 477.9 L892.7 480.2 L889.1 481.2Z M891.7 473.0 L896.9 472.0 L900.8 474.0 L904.8 476.6 L906.7 479.9 L904.8 482.5 L900.8 481.9 L897.6 479.2 L894.3 476.3Z M896.9 474.6 L900.8 476.6 L903.5 479.6 L900.8 480.2 L898.2 477.9Z M893.0 483.5 L896.9 483.0 L900.8 484.8 L902.3 487.2 L898.2 487.2 L895.1 486.6Z M904.1 470.1 L907.4 468.4 L911.3 469.1 L915.9 472.0 L920.5 474.6 L923.8 477.9 L927.0 482.5 L925.2 484.6 L922.5 483.8 L920.0 485.8 L918.0 489.2 L915.9 487.7 L914.1 484.6 L912.0 483.8 L915.9 482.0 L918.0 482.5 L915.9 479.2 L913.3 476.7 L910.0 476.0 L906.7 476.6 L904.9 474.0Z M907.4 464.8 L910.7 463.0 L913.9 463.2 L916.7 464.8 L913.9 466.5 L910.0 466.1Z M917.9 463.5 L923.8 461.5 L933.6 460.2 L942.1 459.9 L939.5 461.5 L933.6 463.5 L927.0 465.5 L920.5 468.1 L916.6 470.1 L912.6 471.4 L907.4 471.4 L904.9 470.2 L910.7 468.1 L917.2 466.1 L913.9 465.5Z M899.6 537.2 L900.6 537.2 L900.6 538.2 L899.6 538.2Z" fill="#101010" stroke="#52b2c2" stroke-width="1.1" stroke-linejoin="round" stroke-opacity="0.92"/>
<path d="M990.2 532.9 L994.2 531.3 L997.0 528.5 L998.5 525.0 L1001.7 521.6 L1006.5 519.5 L1010.9 518.0 L1013.5 518.7 L1013.9 522.2 L1015.1 524.4 L1018.5 525.6 L1021.3 526.7 L1022.1 528.3 L1023.9 527.0 L1026.1 525.4 L1028.1 527.0 L1030.1 530.1 L1031.3 531.7 L1032.5 528.9 L1031.3 526.2 L1033.7 525.0 L1036.9 525.9 L1038.2 527.8 L1039.0 529.9 L1042.9 531.7 L1046.8 532.1 L1050.8 531.2 L1053.1 532.5 L1051.8 536.9 L1050.2 540.1 L1046.8 541.9 L1042.9 541.7 L1038.1 540.1 L1032.5 538.5 L1029.4 538.1 L1028.5 540.3 L1026.7 542.7 L1024.5 541.7 L1019.7 539.3 L1015.3 536.8 L1014.0 533.7 L1013.3 530.9 L1009.3 530.9 L1005.3 531.2 L1000.5 531.7 L996.6 533.3 L993.8 535.2 L991.4 534.5Z M1038.1 522.2 L1039.7 517.0 L1042.9 514.2 L1046.0 515.4 L1049.2 517.0 L1052.4 515.4 L1054.8 511.8 L1052.8 517.0 L1056.4 519.4 L1058.8 521.8 L1058.0 524.2 L1054.0 524.6 L1049.2 523.0 L1044.4 523.0 L1040.5 524.2 L1038.5 523.8Z M1064.8 518.2 L1066.8 515.0 L1070.8 513.4 L1074.8 515.0 L1075.2 517.4 L1072.0 518.2 L1071.2 520.2 L1074.0 522.2 L1078.0 523.8 L1078.8 528.1 L1077.6 532.1 L1074.0 532.5 L1070.4 530.1 L1069.6 526.6 L1068.4 523.0 L1066.0 520.6Z M1015.3 516.2 L1018.1 516.6 L1022.9 519.8 L1026.5 522.2 L1027.3 525.0 L1024.5 525.0 L1020.5 522.2 L1016.5 519.0 L1014.9 517.0Z M1016.3 499.7 L1019.2 497.3 L1021.7 494.8 L1023.5 492.9 L1021.7 491.1 L1021.2 489.3 L1023.5 487.1 L1026.4 484.6 L1029.3 483.1 L1030.8 484.2 L1029.7 486.8 L1027.9 488.9 L1027.5 491.1 L1029.3 492.9 L1030.8 493.7 L1033.7 492.2 L1037.3 492.0 L1038.1 493.3 L1035.2 494.0 L1031.9 494.4 L1030.8 495.5 L1031.9 496.6 L1030.1 497.3 L1027.9 496.9 L1027.5 499.1 L1026.4 500.9 L1023.5 501.6 L1019.9 502.4 L1017.0 501.6 L1015.6 500.9Z M1038.9 482.4 L1041.7 481.3 L1046.8 481.7 L1049.3 482.4 L1048.2 485.0 L1046.0 487.1 L1043.1 486.0 L1041.0 484.2Z" fill="#000" stroke="#52b2c2" stroke-width="1.1" stroke-linejoin="round" stroke-opacity="0.92"/>
<path d="M1014.5 528.9 L1019.7 528.8 L1020.9 530.1 L1018.5 531.3 L1014.9 530.4Z M1011.3 521.2 L1012.5 521.4 L1012.7 523.8 L1011.6 524.0Z M1010.5 524.6 L1012.5 524.3 L1012.7 527.8 L1010.8 528.0Z M1001.3 526.7 L1003.1 525.6 L1003.7 526.2 L1002.0 527.5Z M1032.5 533.5 L1037.7 533.3 L1037.8 534.9 L1032.6 534.9Z M1046.0 533.3 L1048.8 532.5 L1049.4 534.1 L1046.8 535.2Z" fill="#101010" stroke="#52b2c2" stroke-width="1.1" stroke-linejoin="round" stroke-opacity="0.92"/>
<path d="M869.7 514.0 L872.4 511.6 L876.8 511.0 L880.6 512.4 L878.4 514.3 L874.6 514.0 L871.3 515.1Z M871.3 522.8 L873.0 518.9 L875.7 516.2 L877.3 517.3 L875.1 521.1 L873.0 523.6Z M878.4 515.7 L882.2 514.6 L884.4 517.3 L882.2 520.0 L879.5 518.9 L880.6 517.3Z M878.4 522.8 L881.7 521.1 L884.4 521.7 L881.1 523.6Z M886.0 518.9 L889.8 517.9 L889.6 519.7 L886.6 520.4Z M883.2 575.1 L885.4 574.3 L885.9 577.3 L884.7 579.8 L883.5 578.7Z M912.0 467.4 L916.6 467.1 L921.8 464.8 L927.0 463.2 L932.3 461.9 M908.7 469.7 L912.6 469.9 L915.9 468.4 M907.4 472.0 L912.0 473.3 L915.9 476.0 L919.5 478.6 L922.5 481.2" fill="none" stroke="#52b2c2" stroke-width="1.1" stroke-linejoin="round" stroke-opacity="0.92"/>
<circle cx="858.8" cy="528.9" r="65.6" fill="none" stroke="#ffc107" stroke-opacity="0.29" stroke-width="9"/>
<circle cx="1152.9" cy="531" r="21.3" fill="none" stroke="#d4a81e" stroke-width="1.7"/>
<circle cx="1120.9" cy="558.5" r="16.7" fill="none" stroke="#c99f1e" stroke-width="1.1"/>
<circle cx="858.8" cy="528.9" r="2.6" fill="#3a2c00" stroke="#ffc107" stroke-width="2.6"/>
<circle cx="1152.9" cy="531" r="2.6" fill="#3a2c00" stroke="#ffc107" stroke-width="2.6"/>
<circle cx="1120.9" cy="558.5" r="2.6" fill="#3a2c00" stroke="#ffc107" stroke-width="2.6"/>
</svg>
</div>
</body>
</html>
